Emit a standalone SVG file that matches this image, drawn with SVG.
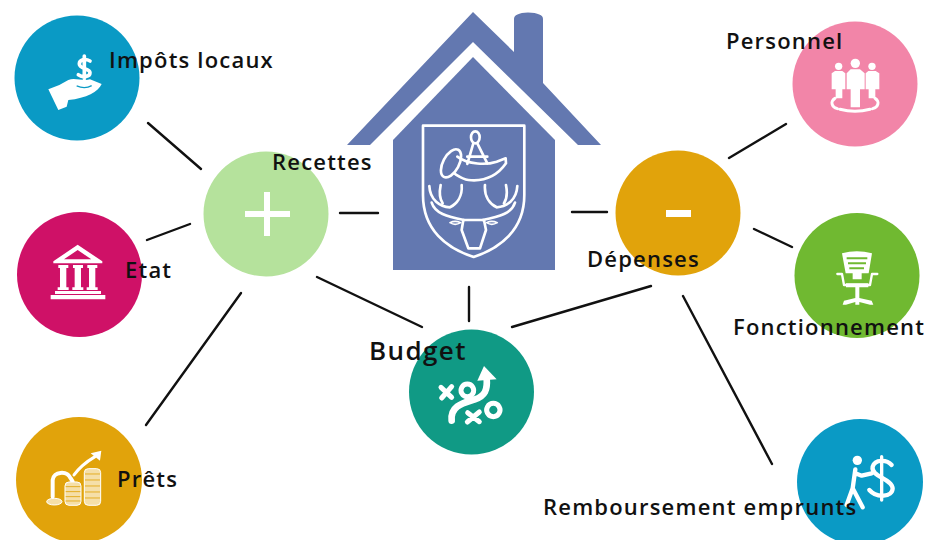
<svg xmlns="http://www.w3.org/2000/svg" width="929" height="540" viewBox="0 0 929 540">
<style>
text{font-family:"Open Sans","Liberation Sans",sans-serif;font-weight:600;font-size:22px;fill:#111;letter-spacing:1.2px}
.c line{stroke:#111;stroke-width:2.400;stroke-linecap:round}
.ws{fill:none;stroke:#fff;stroke-linecap:round;stroke-linejoin:round}
.wf{fill:#fff}
.house{fill:#6378b0}
</style>
<rect width="929" height="540" fill="#fff"/>
<g id="connectors" class="c">
<line x1="148" y1="123" x2="201" y2="169"/>
<line x1="147" y1="240" x2="190" y2="224"/>
<line x1="146" y1="425" x2="241" y2="293"/>
<line x1="340" y1="213" x2="378" y2="213"/>
<line x1="572" y1="212" x2="607" y2="212"/>
<line x1="317" y1="277" x2="422" y2="327"/>
<line x1="469" y1="287" x2="469" y2="321"/>
<line x1="512" y1="327" x2="651" y2="286"/>
<line x1="729" y1="158" x2="786" y2="124"/>
<line x1="754" y1="229" x2="792" y2="247"/>
<line x1="683" y1="296" x2="772" y2="464"/>
</g>
<g id="house">
<path class="house" d="M473 12L514 52V19Q514 13 528 12.500Q543 13 543 19V83L601 145H578L473 42L370 145H347Z"/>
<path class="house" d="M473 57L555 140V270H393V140Z"/>
<g transform="translate(340 0) scale(.3333)" class="ws" stroke-width="8">
<path d="M249 377H553V585C553 690 480 745 401 771C320 745 249 690 249 585Z"/>
<ellipse cx="333" cy="490" rx="24" ry="46" transform="rotate(28 333 490)"/>
<path d="M352 470C385 495 440 495 470 485L497 475L498 490C470 530 430 545 385 540C370 538 358 530 345 522"/>
<ellipse cx="406" cy="412" rx="13" ry="18"/>
<path d="M400 430L382 492M412 430L442 490M382 470H442"/>
<path d="M365 555C368 590 350 612 330 622C300 620 270 600 268 558M302 555C298 575 298 595 308 610M275 608C285 640 320 650 372 660"/>
<path d="M435 555C432 590 450 612 470 622C500 620 530 600 532 558M498 555C502 575 502 595 492 610M525 608C515 640 480 650 428 660"/>
<path d="M370 660H432L438 690L420 745H385L365 690Z"/>
<path d="M330 668Q345 660 362 668Q345 678 330 668ZM440 668Q455 660 472 668Q455 678 440 668Z" stroke-width="5"/>
</g>
</g>
<g id="impots">
<circle cx="77" cy="78" r="62.500" fill="#0a9ac5"/>
<g transform="scale(.3333)">
<path class="wf" d="M145 268L178 255 205 240C225 232 250 245 270 238L305 252C295 275 260 295 205 300L200 320 175 330Z"/>
<path d="M230 258Q255 268 275 257" fill="none" stroke="#0a9ac5" stroke-width="4"/>
<path class="ws" stroke-width="11" d="M270 183C255 174 238 180 238 192C238 207 270 205 270 218C270 230 250 234 235 224M253 168V236"/>
</g>
<text x="109" y="68">Impôts locaux</text>
</g>
<g id="etat">
<circle cx="79.500" cy="274.500" r="62.500" fill="#cf1167"/>
<g transform="translate(0 200) scale(.3333)">
<path class="wf" d="M233 134L307 184V190H160V184ZM233 150L192 178H274Z" fill-rule="evenodd"/>
<path class="wf" d="M175 195H205V204H199V262H206V270H173V262H180V204H175ZM219 195H249V204H243V262H250V270H217V262H224V204H219ZM262 195H292V204H286V262H293V270H260V262H267V204H262ZM165 273H303V282H165ZM152 285H316V298H152Z"/>
</g>
<text x="125" y="278">Etat</text>
</g>
<g id="prets">
<circle cx="79" cy="480" r="63" fill="#e1a30b"/>
<g transform="translate(0 200) scale(.3333)">
<path class="ws" stroke-width="12" d="M158 890V840C160 815 200 810 212 835L218 845"/>
<path class="ws" stroke-width="9" d="M222 825C240 800 260 785 285 770"/>
<path class="wf" d="M304 752L300 782 272 760Z"/>
<g fill="#f5dfa8" stroke="#fff" stroke-width="3">
<ellipse cx="163" cy="905" rx="23" ry="10"/>
<rect x="195" y="846" width="48" height="70" rx="12"/>
<rect x="253" y="806" width="49" height="110" rx="12"/>
</g>
<path d="M197 860H241M197 875H241M197 890H241M197 903H241M255 822H300M255 840H300M255 858H300M255 876H300M255 894H300" stroke="#e1a30b" stroke-width="2.500"/>
</g>
<text x="117" y="487">Prêts</text>
</g>
<g id="recettes">
<circle cx="266" cy="214" r="62.500" fill="#b5e29c"/>
<path class="wf" d="M264 192H270V211H290V217H270V236H264V217H245V211H264Z"/>
<text x="272" y="170">Recettes</text>
</g>
<g id="depenses">
<circle cx="678" cy="213" r="62.500" fill="#e1a30b"/>
<rect class="wf" x="666" y="210" width="25" height="7"/>
<text x="587" y="267">Dépenses</text>
</g>
<g id="budget">
<circle cx="471.500" cy="392" r="62.500" fill="#109a85"/>
<g transform="translate(360 320) scale(.3333)">
<path class="ws" stroke-width="15" d="M243 202L275 232M275 200L245 234M322 192a19 19 0 1 0 .1 0ZM323 278L358 305M358 276L322 306M400 250a20 20 0 1 0 .1 0Z"/>
<path class="ws" stroke-width="20" d="M275 302C270 255 315 248 345 238C375 228 383 210 380 175"/>
<path class="wf" d="M372 138L410 178 352 182Z"/>
</g>
<text x="369" y="360" style="font-size:26px;letter-spacing:1.400px">Budget</text>
</g>
<g id="personnel">
<circle cx="855" cy="84" r="62.500" fill="#f285a8"/>
<g transform="translate(780 10) scale(.3333)">
<circle class="wf" cx="176" cy="169" r="11"/><circle class="wf" cx="226" cy="160" r="14"/><circle class="wf" cx="276" cy="169" r="11"/>
<path class="wf" d="M155 190L165 183H187L196 190V238H187V265H167V238H155ZM200 190L212 178H240L254 190V238H240V292H212V238H200ZM257 190L265 183H287L298 190V238H286V265H266V238H257Z"/>
<path class="ws" stroke-width="9" d="M165 265C150 275 155 292 172 296M285 265C300 275 295 292 278 296M180 298Q225 310 270 298"/>
</g>
<text x="726" y="49">Personnel</text>
</g>
<g id="fonctionnement">
<circle cx="857" cy="275.500" r="62.500" fill="#70b931"/>
<g transform="translate(780 10) scale(.3333)">
<path class="wf" d="M186 730Q230 718 276 730L266 790H245V808H218V790H197Z"/>
<path d="M200 745H262M204 760H258M208 775H252" stroke="#70b931" stroke-width="6"/>
<path class="ws" stroke-width="7" d="M172 792H186L192 825H270L276 792H292"/>
<path class="wf" d="M198 820H265V832H238V864L275 872 280 884 270 884 238 876V884H226V876L198 884 188 884 192 872 226 864V832H198Z"/>
</g>
<text x="733" y="335">Fonctionnement</text>
</g>
<g id="remboursement">
<circle cx="860" cy="482" r="63" fill="#0a9ac5"/>
<g transform="translate(780 410) scale(.3333)">
<circle class="wf" cx="232" cy="151" r="14"/>
<path class="ws" stroke-width="13" d="M226 178L218 235M226 190L245 197 275 190M218 235L200 285M218 235L248 292"/>
<path class="ws" stroke-width="13" d="M335 165C320 148 285 148 278 170C272 200 335 205 338 235C338 262 290 265 268 240"/>
<path class="ws" stroke-width="10" d="M305 140V270"/>
</g>
<text x="543" y="515">Remboursement emprunts</text>
</g>
</svg>
